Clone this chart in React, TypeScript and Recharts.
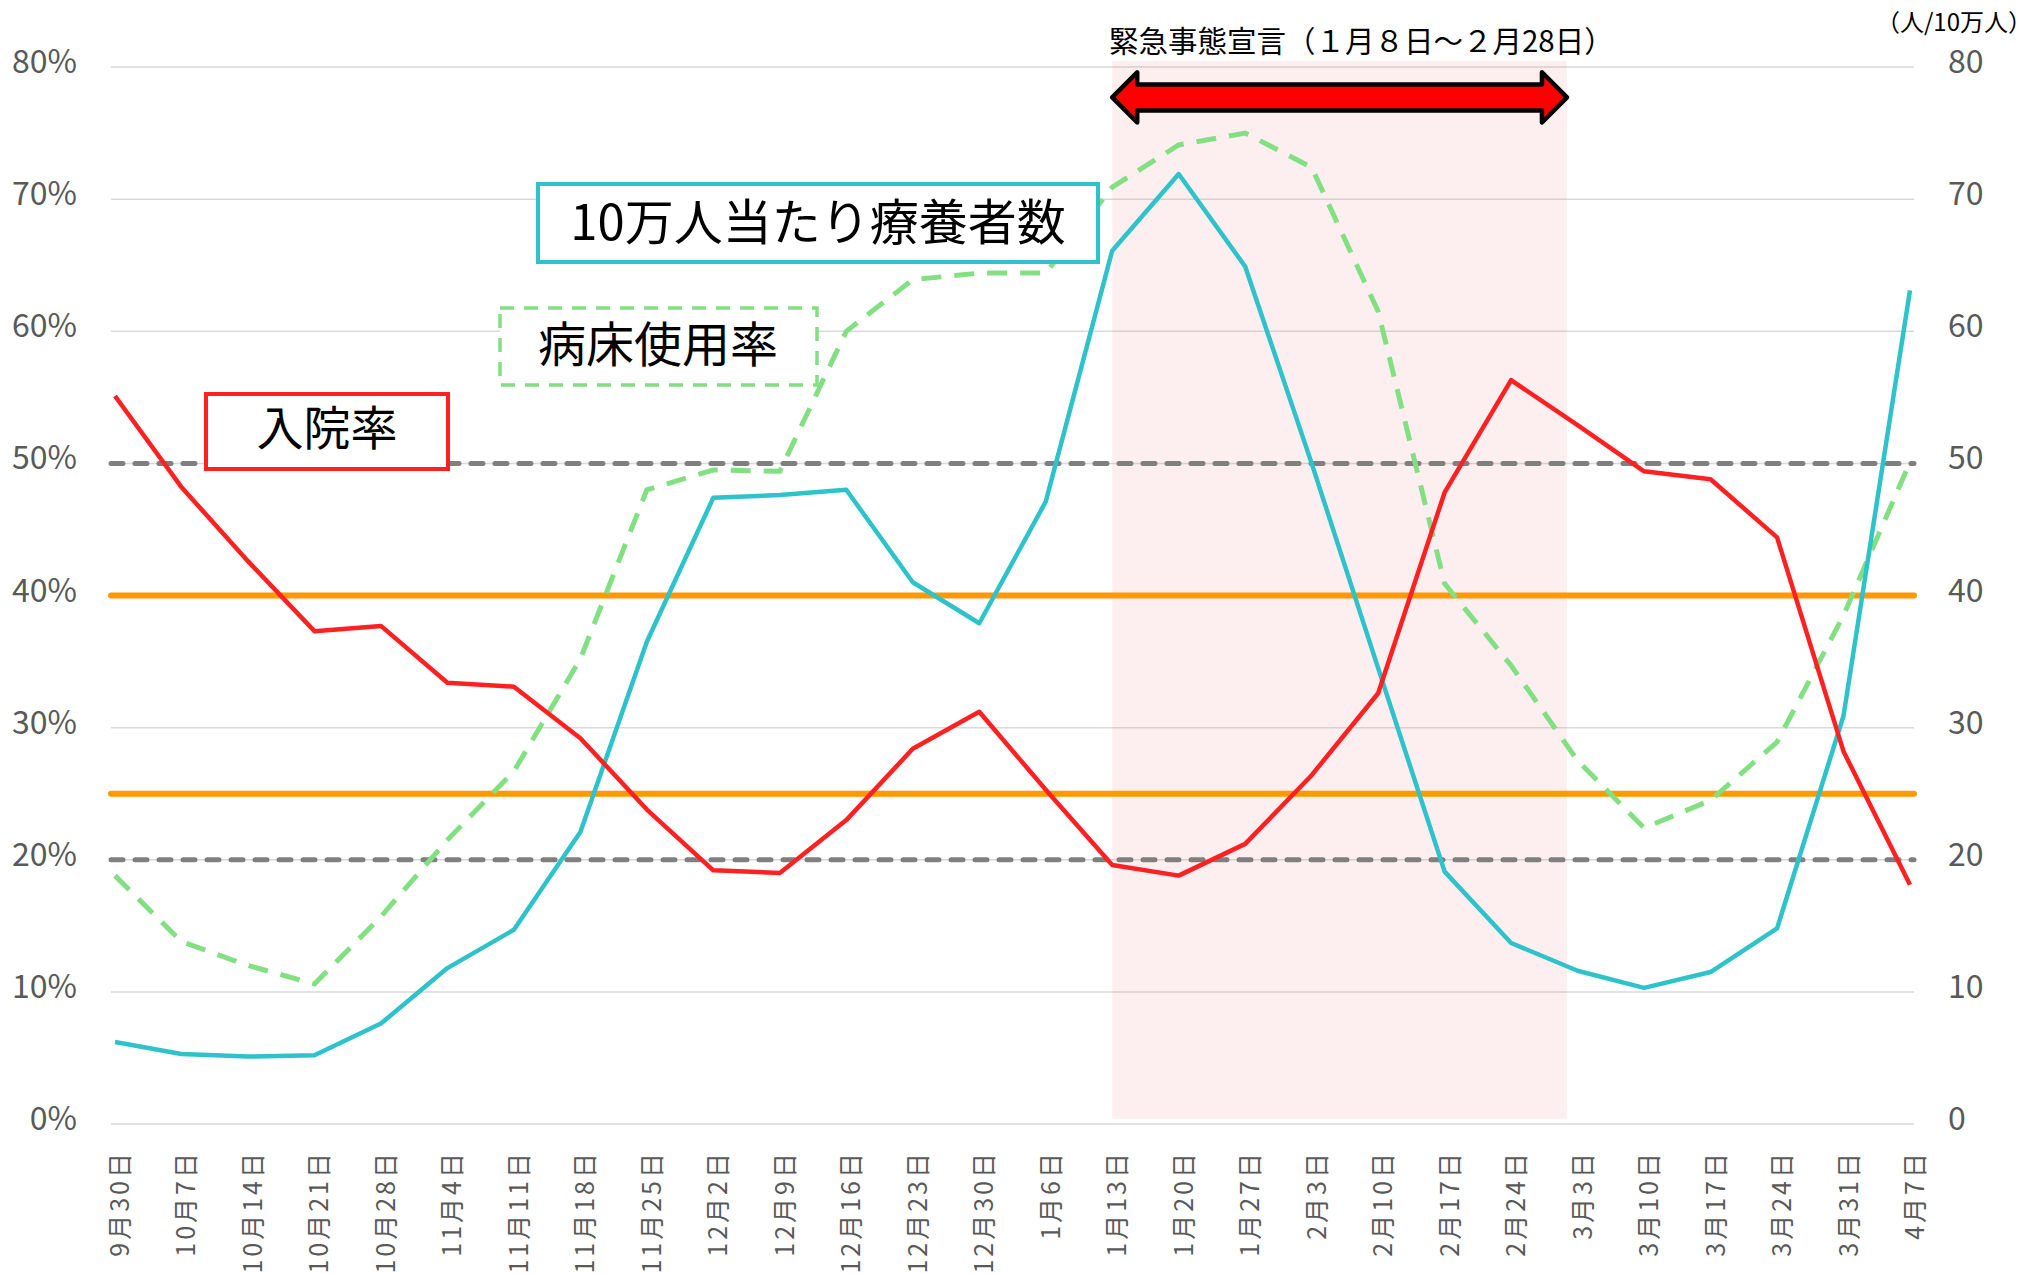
import React from 'react';
import { LineChart, Line, XAxis, YAxis, CartesianGrid, ReferenceLine, ReferenceArea } from 'recharts';

const categories = ['9月30日', '10月7日', '10月14日', '10月21日', '10月28日', '11月4日', '11月11日', '11月18日', '11月25日', '12月2日', '12月9日', '12月16日', '12月23日', '12月30日', '1月6日', '1月13日', '1月20日', '1月27日', '2月3日', '2月10日', '2月17日', '2月24日', '3月3日', '3月10日', '3月17日', '3月24日', '3月31日', '4月7日'];

// 入院率 (%)
const hospitalizationRate = [55.1, 48.2, 42.6, 37.3, 37.7, 33.4, 33.1, 29.2, 23.8, 19.2, 19.0, 23.0, 28.4, 31.2, 25.3, 19.6, 18.8, 21.2, 26.4, 32.6, 47.8, 56.3, 52.9, 49.4, 48.8, 44.4, 28.2, 18.1];
// 病床使用率 (%)
const bedOccupancyRate = [18.8, 13.8, 12.0, 10.6, 15.7, 21.5, 26.7, 35.2, 48.0, 49.5, 49.4, 60.0, 63.9, 64.4, 64.4, 70.9, 74.1, 75.0, 72.4, 61.5, 40.9, 34.7, 27.5, 22.4, 24.5, 28.9, 38.5, 50.1];
// 10万人当たり療養者数 (人/10万人)
const patientsPer100k = [6.2, 5.3, 5.1, 5.2, 7.6, 11.8, 14.7, 22.1, 36.5, 47.4, 47.6, 48.0, 41.0, 37.9, 47.1, 66.1, 71.9, 64.9, 50.0, 34.5, 19.1, 13.7, 11.6, 10.3, 11.5, 14.8, 30.9, 63.1];

const leftTicks = [0, 10, 20, 30, 40, 50, 60, 70, 80];
const rightTicks = [0, 10, 20, 30, 40, 50, 60, 70, 80];
const orangeThresholds = [40, 25];
const grayThresholds = [50, 20];

const emergencyStart = 15; // 1月13日
const emergencyEnd = 21.84;
const emergencyTitle = '緊急事態宣言（１月８日～２月28日）';
const rightUnit = '（人/10万人）';
const labelPatients = '10万人当たり療養者数';
const labelBeds = '病床使用率';
const labelHosp = '入院率';

const data = categories.map((c, i) => ({
  idx: i,
  hosp: hospitalizationRate[i],
  bed: bedOccupancyRate[i],
  pat: patientsPer100k[i],
}));

const FONT = "'Noto Sans CJK JP', 'Noto Sans', sans-serif";
const TICK_COLOR = '#595959';

const LeftTick = (props: any) => {
  const { x, y, payload } = props;
  return (
    <text x={x} y={y} dy={6} textAnchor="end" fill={TICK_COLOR} fontSize={32} fontFamily={FONT}>
      {`${payload.value}%`}
    </text>
  );
};

const RightTick = (props: any) => {
  const { x, y, payload } = props;
  return (
    <text x={x} y={y} dy={6} textAnchor="start" fill={TICK_COLOR} fontSize={32} fontFamily={FONT}>
      {payload.value}
    </text>
  );
};

const BottomTick = (props: any) => {
  const { x, y, payload } = props;
  const label = categories[payload.value] ?? '';
  return (
    <text
      x={x}
      y={y}
      dy={14}
      textAnchor="end"
      transform={`rotate(-90, ${x}, ${y})`}
      fill={TICK_COLOR}
      fontSize={25}
      letterSpacing={3}
      fontFamily={FONT}
    >
      {label}
    </text>
  );
};

const ArrowShape = (p: any) => {
  const { x, y, width, height } = p;
  if (x == null || y == null) return null;
  const cy = y + height / 2;
  const head = 25;
  const bh = 13;
  const pts = [
    [x, cy],
    [x + head, y],
    [x + head, cy - bh],
    [x + width - head, cy - bh],
    [x + width - head, y],
    [x + width, cy],
    [x + width - head, y + height],
    [x + width - head, cy + bh],
    [x + head, cy + bh],
    [x + head, y + height],
  ]
    .map((q) => q.join(','))
    .join(' ');
  return <polygon points={pts} fill="#FF0000" stroke="#000000" strokeWidth={4.5} strokeLinejoin="round" />;
};

export default function App() {
  return (
    <div style={{ position: 'absolute', left: 0, top: 0, width: 2034, height: 1274, background: '#fff' }}>
      <LineChart width={2034} height={1274} data={data} margin={{ top: 67, right: 20, bottom: 0, left: 11 }}>
        <CartesianGrid horizontal vertical={false} stroke="#D9D9D9" strokeWidth={1.5} yAxisId="left" />
        <XAxis
          dataKey="idx"
          type="number"
          domain={[0, 27]}
          ticks={categories.map((_, i) => i)}
          interval={0}
          padding={{ left: 4, right: 4 }}
          axisLine={false}
          tickLine={false}
          tickSize={0}
          tickMargin={26}
          height={150}
          tick={<BottomTick />}
        />
        <YAxis
          yAxisId="left"
          orientation="left"
          domain={[0, 80]}
          ticks={leftTicks}
          width={100}
          axisLine={false}
          tickLine={false}
          tickSize={0}
          tickMargin={34}
          tick={<LeftTick />}
        />
        <YAxis
          yAxisId="right"
          orientation="right"
          domain={[0, 80]}
          ticks={rightTicks}
          width={100}
          axisLine={false}
          tickLine={false}
          tickSize={0}
          tickMargin={34}
          tick={<RightTick />}
        />
        {grayThresholds.map((v) => (
          <ReferenceLine
            key={`g${v}`}
            yAxisId="left"
            y={v}
            stroke="#7F7F7F"
            strokeWidth={5}
            strokeDasharray="12 12"
            strokeLinecap="round"
          />
        ))}
        {orangeThresholds.map((v) => (
          <ReferenceLine key={`o${v}`} yAxisId="left" y={v} stroke="#FF9900" strokeWidth={6} strokeLinecap="round" />
        ))}
        <ReferenceArea
          yAxisId="left"
          x1={emergencyStart}
          x2={emergencyEnd}
          y1={0.4}
          y2={80.45}
          ifOverflow="visible"
          fill="#F08080"
          fillOpacity={0.13}
          stroke="none"
        />
        <Line
          yAxisId="left"
          type="linear"
          dataKey="bed"
          stroke="#82E082"
          strokeWidth={5}
          strokeDasharray="20 13"
          dot={false}
          isAnimationActive={false}
        />
        <Line
          yAxisId="right"
          type="linear"
          dataKey="pat"
          stroke="#2EC2CA"
          strokeWidth={4.5}
          strokeLinejoin="round"
          dot={false}
          isAnimationActive={false}
        />
        <Line
          yAxisId="left"
          type="linear"
          dataKey="hosp"
          stroke="#FF2121"
          strokeWidth={4.5}
          strokeLinejoin="round"
          dot={false}
          isAnimationActive={false}
        />
        <ReferenceArea
          yAxisId="left"
          x1={emergencyStart}
          x2={emergencyEnd}
          y1={75.8}
          y2={79.6}
          ifOverflow="visible"
          shape={<ArrowShape />}
        />
      </LineChart>
      <svg
        width={2034}
        height={1274}
        style={{ position: 'absolute', left: 0, top: 0, pointerEvents: 'none' }}
        fontFamily={FONT}
      >
        <text x={1109} y={52} fontSize={29.5} fill="#000">{emergencyTitle}</text>
        <text x={2032} y={31} fontSize={24} fill="#000" textAnchor="end">{rightUnit}</text>

        <rect x={538} y={184} width={560} height={78} fill="#fff" stroke="#2EC2CA" strokeWidth={4} />
        <text x={818} y={240} fontSize={49} fill="#000" textAnchor="middle">{labelPatients}</text>

        <rect x={500} y={308} width={317} height={77} fill="#fff" stroke="#82E082" strokeWidth={3.5} strokeDasharray="14 10" />
        <text x={658} y={362} fontSize={48} fill="#000" textAnchor="middle">{labelBeds}</text>

        <rect x={206} y={394} width={242} height={75} fill="#fff" stroke="#FF2121" strokeWidth={4} />
        <text x={327} y={445} fontSize={47} fill="#000" textAnchor="middle">{labelHosp}</text>
      </svg>
    </div>
  );
}
